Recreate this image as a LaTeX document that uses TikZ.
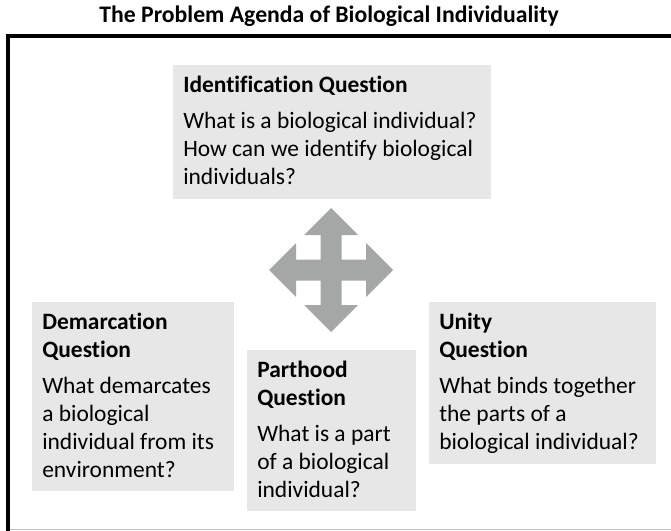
\documentclass[tikz,border=0pt]{standalone}
\usepackage{fontspec}
\setmainfont{Carlito}[Ligatures=NoCommon]
\usetikzlibrary{positioning}

\definecolor{boxgrey}{HTML}{E6E7E6}
\definecolor{arrowgrey}{HTML}{A5A7A6}
\newcommand{\pxu}{0.75pt}

\tikzset{
  qbox/.style={rectangle, fill=boxgrey, draw=none, anchor=north west, inner sep=0pt, outer sep=0pt},
  qtext/.style={anchor=north west, align=left, inner sep=0pt, font=\fontsize{17.6}{21}\selectfont},
}

\begin{document}
\begin{tikzpicture}[x=0.75pt, y=-0.75pt]
  \useasboundingbox (0,0) rectangle (671,531);

  % title and frame
  \node[font=\fontsize{17.8}{21}\selectfont\bfseries] (title) at (329,16) {The Problem Agenda of Biological Individuality};
  \draw[line width=3.5*\pxu] (8,531) -- (8,36) -- (672,36);
  \draw[black!25, line width=1.5*\pxu] (10,529.5) -- (671,529.5);

  % the four questions
  \node[qbox, minimum width=318*\pxu, minimum height=134*\pxu] (ident) at (173,65) {};
  \node[qbox, minimum width=202*\pxu, minimum height=189*\pxu] (demarc) at (32,302) {};
  \node[qbox, minimum width=169*\pxu, minimum height=161*\pxu] (parthood) at (247,350) {};
  \node[qbox, minimum width=227*\pxu, minimum height=162*\pxu] (unity) at (429,302) {};

  \node[qtext] (identtxt) at ([xshift=10*\pxu, yshift=-11*\pxu]ident.north west)
    {\textbf{Identification Question}\\[6pt]
     What is a biological individual?\\
     How can we identify biological\\
     individuals?};
  \node[qtext] (demarctxt) at ([xshift=10*\pxu, yshift=-11*\pxu]demarc.north west)
    {\textbf{Demarcation}\\
     \textbf{Question}\\[6pt]
     What demarcates\\
     a biological\\
     individual from its\\
     environment?};
  \node[qtext] (parthoodtxt) at ([xshift=10*\pxu, yshift=-11*\pxu]parthood.north west)
    {\textbf{Parthood}\\
     \textbf{Question}\\[6pt]
     What is a part\\
     of a biological\\
     individual?};
  \node[qtext] (unitytxt) at ([xshift=10*\pxu, yshift=-11*\pxu]unity.north west)
    {\textbf{Unity}\\
     \textbf{Question}\\[6pt]
     What binds together\\
     the parts of a\\
     biological individual?};

  % four-way arrow
  \coordinate (hub) at (331,270);
  \fill[arrowgrey, shift={(hub)}]
    (0,-62) -- (27,-35) -- (10.5,-35) -- (10.5,-10.5) -- (35,-10.5) -- (35,-27)
    -- (62,0) -- (35,27) -- (35,10.5) -- (10.5,10.5) -- (10.5,35) -- (27,35)
    -- (0,62) -- (-27,35) -- (-10.5,35) -- (-10.5,10.5) -- (-35,10.5) -- (-35,27)
    -- (-62,0) -- (-35,-27) -- (-35,-10.5) -- (-10.5,-10.5) -- (-10.5,-35) -- (-27,-35)
    -- cycle;

\end{tikzpicture}
\end{document}
